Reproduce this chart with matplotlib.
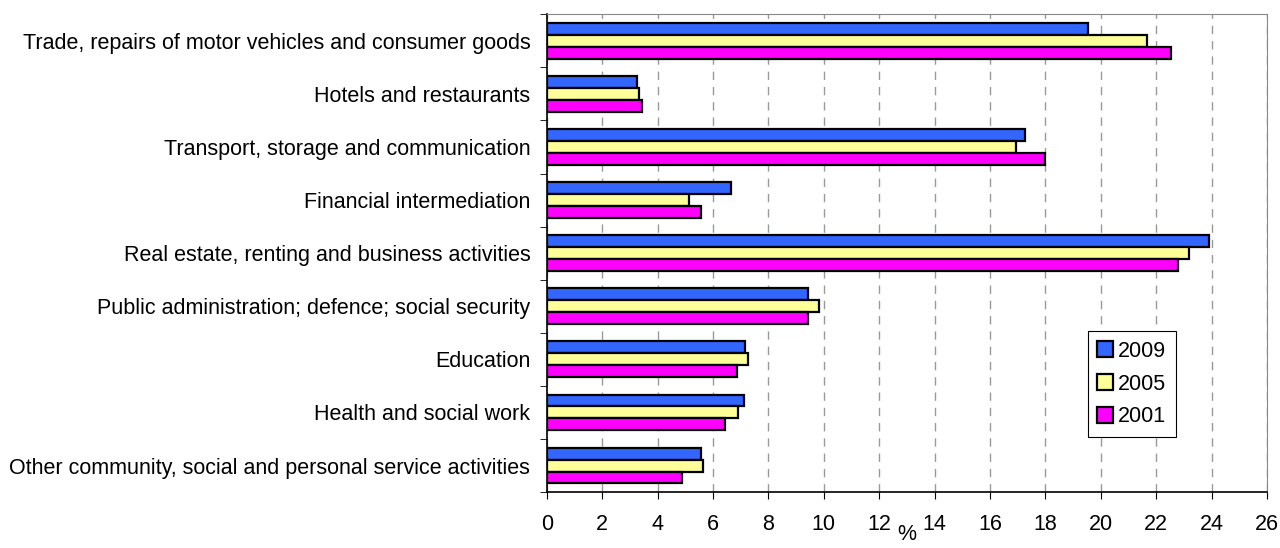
import numpy as np
import matplotlib
matplotlib.use('Agg')
import matplotlib.pyplot as plt
from matplotlib.patches import Patch

plt.rcParams['font.family'] = ['Liberation Sans', 'DejaVu Sans']

categories = ['Trade, repairs of motor vehicles and consumer goods',
              'Hotels and restaurants',
              'Transport, storage and communication',
              'Financial intermediation',
              'Real estate, renting and business activities',
              'Public administration; defence; social security',
              'Education',
              'Health and social work',
              'Other community, social and personal service activities']
years = ['2009', '2005', '2001']
v2009 = [19.55, 3.25, 17.27, 6.66, 23.9, 9.44, 7.15, 7.12, 5.55]
v2005 = [21.66, 3.33, 16.95, 5.14, 23.2, 9.83, 7.27, 6.89, 5.65]
v2001 = [22.53, 3.45, 18.0, 5.56, 22.8, 9.44, 6.88, 6.42, 4.88]
colors = ['#3366FF', '#FFFF99', '#FF00FF']

fs = 15.5

fig = plt.figure(figsize=(12.8, 5.48), dpi=100)
ax = fig.add_axes([0.4273, 0.102, 0.5625, 0.872])

n = len(categories)
y = np.arange(n)
h = 0.225
for k, vals in enumerate([v2009, v2005, v2001]):
    ax.barh(y + (k - 1) * h, vals, height=h, color=colors[k],
            edgecolor='black', linewidth=1.6, zorder=3)

ax.set_ylim(n - 0.5, -0.5)
ax.set_xlim(0, 26)
ax.set_xticks(np.arange(0, 27, 2))
ax.tick_params(axis='x', labelsize=fs, length=5, direction='out', pad=11)

# labels at category centres, tick marks at the boundaries
ax.set_yticks(y)
ax.set_yticklabels(categories, fontsize=fs)
ax.tick_params(axis='y', length=0, pad=12)
ax.set_yticks(np.arange(-0.5, n, 1), minor=True)
ax.tick_params(axis='y', which='minor', length=5, direction='out')

ax.xaxis.grid(True, linestyle=(0, (6, 5)), color='#999999', linewidth=1)
ax.set_axisbelow(True)

for s in ['top', 'right']:
    ax.spines[s].set_color('#888888')
for s in ['left', 'bottom']:
    ax.spines[s].set_color('black')
    ax.spines[s].set_linewidth(1.2)

ax.set_xlabel('%', fontsize=fs, labelpad=-8)

handles = [Patch(facecolor=c, edgecolor='black', linewidth=1.6) for c in colors]
leg = ax.legend(handles, years, loc='upper left', bbox_to_anchor=(0.751, 0.337),
                fontsize=fs, handlelength=0.75, handleheight=0.75, handletextpad=0.2,
                labelspacing=0.55, borderpad=0.45, fancybox=False, framealpha=1,
                borderaxespad=0)
leg.get_frame().set_edgecolor('black')
leg.get_frame().set_linewidth(0.8)

fig.savefig('out.png', dpi=100)
